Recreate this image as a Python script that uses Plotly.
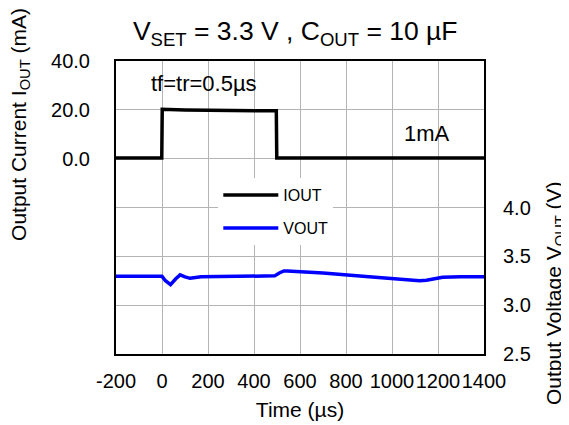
import plotly.graph_objects as go

# IOUT step (mA) vs time (us)
t_iout = [-200, -1, 1, 20, 100, 200, 300, 400, 497, 499, 600, 1000, 1400]
iout = [0.3, 0.3, 20.2, 20.1, 19.9, 19.8, 19.7, 19.7, 19.6, 0.3, 0.3, 0.3, 0.3]

# VOUT response (V) vs time (us)
t_vout = [-200, 0, 15, 37, 60, 79, 100, 122, 170, 300, 490, 510, 530, 545,
          700, 900, 1120, 1150, 1220, 1300, 1400]
vout = [3.295, 3.295, 3.25, 3.21, 3.27, 3.31, 3.29, 3.275, 3.29, 3.295, 3.30,
        3.33, 3.35, 3.35, 3.33, 3.29, 3.25, 3.255, 3.285, 3.29, 3.29]

x_ticks = [-200, 0, 200, 400, 600, 800, 1000, 1200, 1400]
x_text = ["-200", "0", "200", "400", "600", "800", "1000", "1200", "1400"]
y1_ticks = [-80, -60, -40, -20, 0, 20, 40]
y1_text = ["", "", "", "", "0.0", "20.0", "40.0"]
y2_ticks = [2.5, 3.0, 3.5, 4.0]
y2_text = ["2.5", "3.0", "3.5", "4.0"]

FONT = "Liberation Sans, Arial, sans-serif"
GRID = "#b4b4b4"

fig = go.Figure()
fig.add_trace(go.Scatter(x=t_iout, y=iout, mode="lines", name="IOUT",
                         line=dict(color="black", width=3.5),
                         legendgroup="i"))
fig.add_trace(go.Scatter(x=t_vout, y=vout, mode="lines", name="VOUT",
                         line=dict(color="#0000ff", width=3.5),
                         legendgroup="v", yaxis="y2"))

fig.add_annotation(x=183, y=30.6, text="tf=tr=0.5µs", showarrow=False,
                   font=dict(size=22, color="black"))
fig.add_annotation(x=1150, y=10.4, text="1mA", showarrow=False,
                   font=dict(size=22, color="black"))

# axis titles sit over their own trace, not centred on the plot
fig.add_annotation(xref="paper", yref="paper", x=-0.261, y=0.785,
                   text="Output Current I<sub>OUT</sub> (mA)", textangle=-90,
                   showarrow=False, xanchor="center", yanchor="middle",
                   font=dict(size=21))
fig.add_annotation(xref="paper", yref="paper", x=1.193, y=0.208,
                   text="Output Voltage V<sub>OUT</sub> (V)", textangle=-90,
                   showarrow=False, xanchor="center", yanchor="middle",
                   font=dict(size=21))

# page body adds an 8px offset, so the figure is sized to fit the window
fig.update_layout(
    width=561, height=417,
    margin=dict(l=108, r=85, t=53, b=71),
    paper_bgcolor="white", plot_bgcolor="white",
    font=dict(family=FONT, size=20, color="black"),
    title=dict(text="V<sub>SET</sub> = 3.3 V , C<sub>OUT</sub> = 10 µF",
               x=0.512, xanchor="center", y=0.945, yanchor="middle",
               font=dict(size=26.5)),
    xaxis=dict(range=[-200, 1400], tickvals=x_ticks, ticktext=x_text,
               tickangle=0,
               showgrid=True, gridcolor=GRID, gridwidth=1, zeroline=False,
               showline=True, linecolor="black", linewidth=2, mirror=True,
               ticks="", ticklabelstandoff=8, automargin=False,
               title=dict(text="Time (µs)", standoff=11, font=dict(size=21))),
    yaxis=dict(range=[-80, 40], tickvals=y1_ticks, ticktext=y1_text,
               showgrid=True, gridcolor=GRID, gridwidth=1, zeroline=False,
               showline=True, linecolor="black", linewidth=2, mirror=True,
               ticks="", ticklabelstandoff=20, automargin=False),
    yaxis2=dict(range=[2.5, 5.5], tickvals=y2_ticks, ticktext=y2_text,
                overlaying="y", side="right", showgrid=False, zeroline=False,
                ticks="", ticklabelstandoff=18, automargin=False),
    showlegend=True,
    legend=dict(x=0.278, y=0.6, xanchor="left", yanchor="top",
                bgcolor="white", borderwidth=0, itemwidth=55,
                traceorder="grouped", tracegroupgap=9,
                font=dict(size=16)),
)

fig.write_html("out.html")
